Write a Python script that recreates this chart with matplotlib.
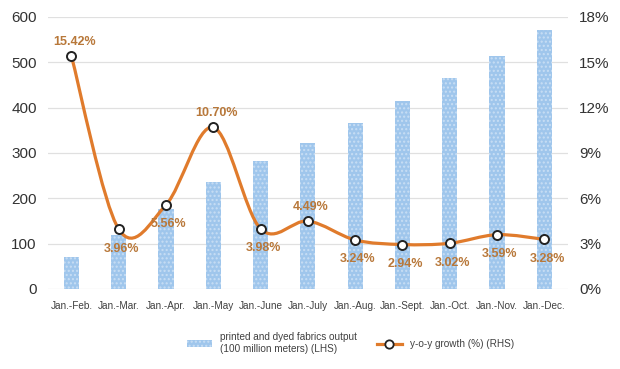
import numpy as np
import matplotlib.pyplot as plt
from matplotlib.path import Path
from matplotlib.patches import PathPatch
from matplotlib.lines import Line2D
from matplotlib.patches import Patch

plt.rcParams['font.family'] = ['Liberation Sans', 'DejaVu Sans']

# Data
months = ['Jan.-Feb.', 'Jan.-Mar.', 'Jan.-Apr.', 'Jan.-May', 'Jan.-June', 'Jan.-July',
          'Jan.-Aug.', 'Jan.-Sept.', 'Jan.-Oct.', 'Jan.-Nov.', 'Jan.-Dec.']
output = [71, 120, 176, 237, 283, 321, 367, 415, 466, 515, 572]
growth = [15.42, 3.96, 5.56, 10.70, 3.98, 4.49, 3.24, 2.94, 3.02, 3.59, 3.28]
label_above = [True, False, False, True, False, True, False, False, False, False, False]

bar_color = '#9fc6ec'
hatch_color = '#c8def4'
line_color = '#e07b2c'
label_color = '#b8783a'
text_color = '#404040'

fig = plt.figure(figsize=(6.2, 3.69), dpi=100)
ax = fig.add_axes([0.077, 0.217, 0.839, 0.737])
ax2 = ax.twinx()

x = np.arange(len(months))
ax.bar(x, output, width=0.32, color=bar_color, hatch='....', edgecolor=hatch_color,
       linewidth=0, zorder=2)
ax.set_ylim(0, 600)
ax.set_yticks(range(0, 601, 100))
ax.set_xlim(-0.5, len(months) - 0.5)
ax.set_xticks(x)
ax.set_xticklabels(months, fontsize=7.2, color=text_color)
ax.tick_params(axis='y', labelsize=11, colors='#333333', length=0, pad=8)
ax.tick_params(axis='x', length=0, pad=9)
ax.grid(axis='y', color='#e0e0e0', linewidth=0.9, zorder=0)
for s in ax.spines.values():
    s.set_visible(False)
for s in ax2.spines.values():
    s.set_visible(False)

# smoothed line (Excel style Bezier through the points)
pts = np.column_stack([x, growth])
verts = [tuple(pts[0])]
codes = [Path.MOVETO]
t = 1 / 6
for i in range(len(pts) - 1):
    p0 = pts[i - 1] if i > 0 else pts[i]
    p1 = pts[i]
    p2 = pts[i + 1]
    p3 = pts[i + 2] if i + 2 < len(pts) else pts[i + 1]
    c1 = p1 + (p2 - p0) * t
    c2 = p2 - (p3 - p1) * t
    verts += [tuple(c1), tuple(c2), tuple(p2)]
    codes += [Path.CURVE4] * 3
ax2.add_patch(PathPatch(Path(verts, codes), facecolor='none', edgecolor=line_color,
                        linewidth=2.3, zorder=3))
ax2.plot(x, growth, linestyle='none', marker='o', markersize=6.5, markerfacecolor='white',
         markeredgecolor='#222222', markeredgewidth=1.4, zorder=4)
ax2.set_ylim(0, 18)
ax2.set_yticks(range(0, 19, 3))
ax2.set_yticklabels([f'{v}%' for v in range(0, 19, 3)])
ax2.tick_params(axis='y', labelsize=11, colors='#333333', length=0, pad=8)

for xi, g, up in zip(x, growth, label_above):
    ax2.annotate(f'{g:.2f}%', (xi, g), xytext=(2, 10 if up else -14),
                 textcoords='offset points', ha='center', va='center',
                 fontsize=9, fontweight='bold', color=label_color, zorder=5)

handles = [Patch(facecolor=bar_color, hatch='....', edgecolor=hatch_color, linewidth=0),
           Line2D([0], [0], color=line_color, linewidth=2.3, marker='o', markersize=6,
                  markerfacecolor='white', markeredgecolor='#222222', markeredgewidth=1.3)]
fig.legend(handles, ['printed and dyed fabrics output\n(100 million meters) (LHS)',
                     'y-o-y growth (%) (RHS)'],
           loc='center', bbox_to_anchor=(0.565, 0.07), ncol=2, frameon=False,
           fontsize=7.2, handlelength=2.5, columnspacing=2.0, labelcolor=text_color)

fig.savefig('out.png', dpi=100)
